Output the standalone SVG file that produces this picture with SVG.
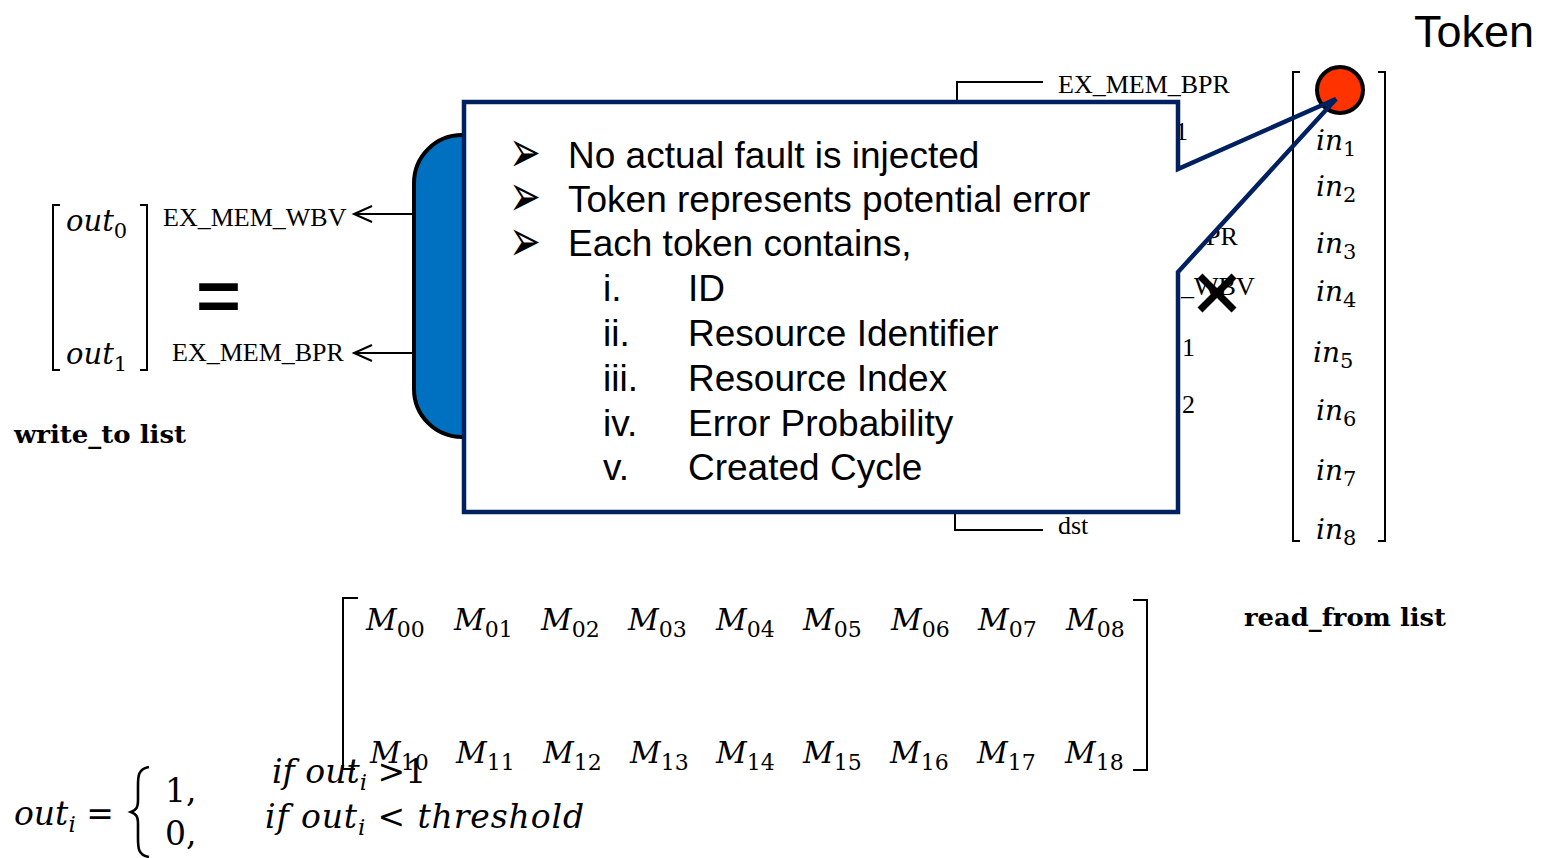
<svg xmlns="http://www.w3.org/2000/svg" width="1552" height="858" viewBox="0 0 1552 858">
<style>
.m{font-family:"DejaVu Serif","Liberation Serif",serif;font-style:italic;fill:#000}
.up{font-style:normal}
.lbl{font-family:"Liberation Serif","Times New Roman",serif;font-size:26px;fill:#000}
.bold{font-family:"DejaVu Serif","Liberation Serif",serif;font-weight:bold;font-size:25px;fill:#000}
.bul{font-family:"Liberation Sans",Arial,sans-serif;font-size:37px;fill:#000}
.arr{font-family:"DejaVu Sans",sans-serif;font-size:38px;fill:#000}
.br{fill:none;stroke:#000;stroke-width:2}
.wire{fill:none;stroke:#000;stroke-width:2}
</style>
<defs>
<polygon id="callout" points="464,102 1178,102 1178,169 1336,99 1178,272 1178,512 464,512"/>
</defs>
<rect width="1552" height="858" fill="#fff"/>

<g id="write-list">
<path class="br" d="M60,205 H53 V370 H60 M140,205 H147 V370 H140"/>
<text class="m" font-size="29" x="66" y="231">out<tspan font-size="21" dy="7" class="up">0</tspan></text>
<text class="m" font-size="29" x="66" y="364">out<tspan font-size="21" dy="7" class="up">1</tspan></text>
<text x="196" y="320" font-family="Liberation Sans,Arial,sans-serif" font-weight="bold" font-size="70" fill="#000" textLength="45" lengthAdjust="spacingAndGlyphs">=</text>
<text class="bold" x="14" y="443" textLength="172" lengthAdjust="spacingAndGlyphs">write_to list</text>
</g>

<g id="connectors">
<path class="wire" d="M414,214 H354 M372,206 L354,214 L372,222"/>
<path class="wire" d="M414,353 H354 M372,345 L354,353 L372,361"/>
<path class="wire" d="M957,100 V82 H1043"/>
<path class="wire" d="M955,512 V530 H1043"/>
</g>

<g id="labels">
<text class="lbl" x="1175" y="140">1</text>
<text class="lbl" x="1206" y="245">PR</text>
<text class="lbl" x="1181" y="295">_WBV</text>
<text class="lbl" x="1182" y="356">1</text>
<text class="lbl" x="1182" y="413">2</text>
<text class="lbl" x="163" y="226">EX_MEM_WBV</text>
<text class="lbl" x="172" y="361">EX_MEM_BPR</text>
<text class="lbl" x="1058" y="93">EX_MEM_BPR</text>
<text class="lbl" x="1058" y="534">dst</text>
</g>

<g id="blue-unit">
<path d="M540,135 H462 A48,48 0 0 0 414,183 V389 A48,48 0 0 0 462,437 H540 Z" fill="#0070C0" stroke="#000" stroke-width="4"/>
</g>

<g id="callout-fill">
<use href="#callout" fill="#fff"/>
</g>

<g id="read-list">
<path class="br" d="M1300,72 H1293 V541 H1300 M1378,72 H1385 V541 H1378"/>
<text class="m" font-size="28" x="1316" y="150">in<tspan font-size="21" dy="6" class="up">1</tspan></text>
<text class="m" font-size="28" x="1316" y="196">in<tspan font-size="21" dy="6" class="up">2</tspan></text>
<text class="m" font-size="28" x="1316" y="253">in<tspan font-size="21" dy="6" class="up">3</tspan></text>
<text class="m" font-size="28" x="1316" y="301">in<tspan font-size="21" dy="6" class="up">4</tspan></text>
<text class="m" font-size="28" x="1313" y="362">in<tspan font-size="21" dy="6" class="up">5</tspan></text>
<text class="m" font-size="28" x="1316" y="420">in<tspan font-size="21" dy="6" class="up">6</tspan></text>
<text class="m" font-size="28" x="1316" y="480">in<tspan font-size="21" dy="6" class="up">7</tspan></text>
<text class="m" font-size="28" x="1316" y="539">in<tspan font-size="21" dy="6" class="up">8</tspan></text>
<text class="bold" x="1244" y="626" textLength="202" lengthAdjust="spacingAndGlyphs">read_from list</text>
</g>

<g id="token">
<circle cx="1340" cy="90" r="23" fill="#FF3300" stroke="#000" stroke-width="4"/>
<text x="1414" y="47" font-family="Liberation Sans,Arial,sans-serif" font-size="45" fill="#000">Token</text>
</g>

<g id="callout-box">
<use href="#callout" fill="none" stroke="#002060" stroke-width="4.5" stroke-linejoin="miter"/>
<text class="arr" transform="translate(509,172) scale(1,1.55)">➢</text>
<text class="arr" transform="translate(509,216) scale(1,1.55)">➢</text>
<text class="arr" transform="translate(509,261) scale(1,1.55)">➢</text>
<text class="bul" x="568" y="168">No actual fault is injected</text>
<text class="bul" x="568" y="212">Token represents potential error</text>
<text class="bul" x="568" y="256">Each token contains,</text>
<text class="bul" x="603" y="301">i.</text><text class="bul" x="688" y="301">ID</text>
<text class="bul" x="603" y="346">ii.</text><text class="bul" x="688" y="346">Resource Identifier</text>
<text class="bul" x="603" y="391">iii.</text><text class="bul" x="688" y="391">Resource Index</text>
<text class="bul" x="603" y="436">iv.</text><text class="bul" x="688" y="436">Error Probability</text>
<text class="bul" x="603" y="480">v.</text><text class="bul" x="688" y="480">Created Cycle</text>
</g>

<g id="cross">
<path d="M1200,276 L1234,310 M1234,276 L1200,310" stroke="#000" stroke-width="7" fill="none"/>
</g>

<g id="matrix">
<path class="br" d="M358,598 H343 V769 H355 M1133,600 H1147 V770 H1133"/>
<g class="m" font-size="30">
<text x="366" y="630">M<tspan font-size="22" dy="7" class="up">00</tspan></text>
<text x="454" y="630">M<tspan font-size="22" dy="7" class="up">01</tspan></text>
<text x="541" y="630">M<tspan font-size="22" dy="7" class="up">02</tspan></text>
<text x="628" y="630">M<tspan font-size="22" dy="7" class="up">03</tspan></text>
<text x="716" y="630">M<tspan font-size="22" dy="7" class="up">04</tspan></text>
<text x="803" y="630">M<tspan font-size="22" dy="7" class="up">05</tspan></text>
<text x="891" y="630">M<tspan font-size="22" dy="7" class="up">06</tspan></text>
<text x="978" y="630">M<tspan font-size="22" dy="7" class="up">07</tspan></text>
<text x="1066" y="630">M<tspan font-size="22" dy="7" class="up">08</tspan></text>
<text x="370" y="763">M<tspan font-size="22" dy="7" class="up">10</tspan></text>
<text x="456" y="763">M<tspan font-size="22" dy="7" class="up">11</tspan></text>
<text x="543" y="763">M<tspan font-size="22" dy="7" class="up">12</tspan></text>
<text x="630" y="763">M<tspan font-size="22" dy="7" class="up">13</tspan></text>
<text x="716" y="763">M<tspan font-size="22" dy="7" class="up">14</tspan></text>
<text x="803" y="763">M<tspan font-size="22" dy="7" class="up">15</tspan></text>
<text x="890" y="763">M<tspan font-size="22" dy="7" class="up">16</tspan></text>
<text x="977" y="763">M<tspan font-size="22" dy="7" class="up">17</tspan></text>
<text x="1065" y="763">M<tspan font-size="22" dy="7" class="up">18</tspan></text>
</g>
</g>

<g id="formula">
<text class="m" font-size="33" x="14" y="825">out<tspan font-size="23" dy="7">i</tspan><tspan dy="-7" class="up"> =</tspan></text>
<path d="M149,767 C138,769 138,776 138,786 V800 C138,808 136,810 131,812 C136,814 138,816 138,824 V838 C138,848 138,855 149,857" fill="none" stroke="#000" stroke-width="2.6"/>
<text class="m up" font-size="33" x="165" y="802">1,</text>
<text class="m up" font-size="33" x="165" y="845">0,</text>
<text class="m" font-size="33" x="272" y="783">if out<tspan font-size="23" dy="7">i</tspan><tspan dy="-7" class="up"> &gt;1</tspan></text>
<text class="m" font-size="33" x="265" y="828" textLength="319" lengthAdjust="spacing">if out<tspan font-size="23" dy="7">i</tspan><tspan dy="-7"> <tspan class="up">&lt;</tspan> threshold</tspan></text>
</g>
</svg>
